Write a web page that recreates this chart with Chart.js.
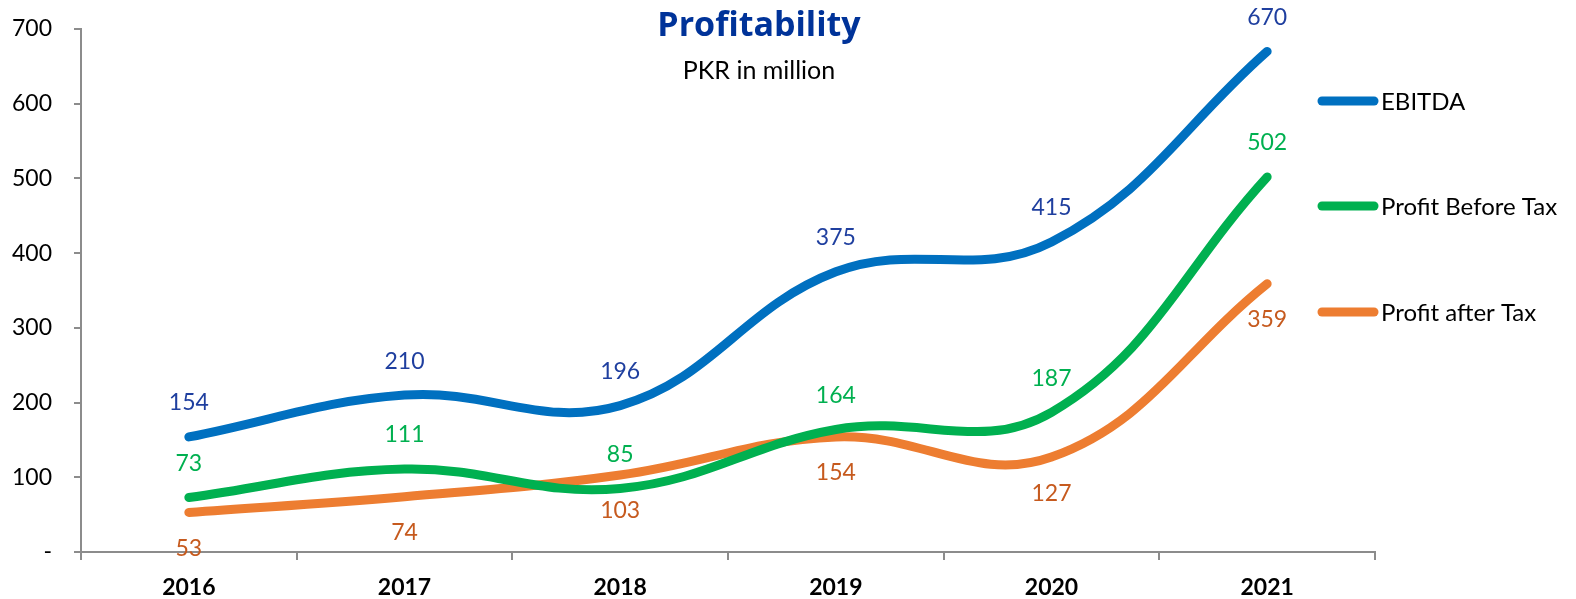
<!DOCTYPE html>
<html>
<head>
<meta charset="utf-8">
<script src="https://cdn.jsdelivr.net/npm/chart.js@4.4.1/dist/chart.umd.min.js"></script>
<style>
  html, body { margin: 0; padding: 0; background: #fff; }
  #wrap { width: 1576px; height: 599px; }
</style>
</head>
<body>
<div id="wrap"><canvas id="chart"></canvas></div>
<script>
// data
var YEARS = ["2016", "2017", "2018", "2019", "2020", "2021"];
var EBITDA = [154, 210, 196, 375, 415, 670];
var PROFIT_BEFORE_TAX = [73, 111, 85, 164, 187, 502];
var PROFIT_AFTER_TAX = [53, 74, 103, 154, 127, 359];
var Y_TICKS = [0, 100, 200, 300, 400, 500, 600, 700];

var FONT = "Lato, 'Noto Sans', sans-serif";

// value labels: above for the first two series, below for the last
var valueLabels = {
  id: "valueLabels",
  afterDatasetsDraw: function (chart) {
    var ctx = chart.ctx;
    ctx.save();
    ctx.font = "23px " + FONT;
    ctx.textAlign = "center";
    ctx.textBaseline = "middle";
    chart.data.datasets.forEach(function (ds, i) {
      var meta = chart.getDatasetMeta(i);
      meta.data.forEach(function (pt, j) {
        var dy = ds.labelBelow ? 36 : -34;
        ctx.fillStyle = ds.labelColor;
        ctx.fillText(String(ds.data[j]), pt.x, pt.y + dy);
      });
    });
    ctx.restore();
  }
};

// title, subtitle and the legend on the right
var decorations = {
  id: "decorations",
  afterDraw: function (chart) {
    var ctx = chart.ctx;
    ctx.save();
    ctx.textAlign = "center";
    ctx.textBaseline = "middle";
    ctx.fillStyle = "#003399";
    ctx.font = "bold 34px 'Open Sans', " + FONT;
    ctx.fillText("Profitability", 759, 26);
    ctx.fillStyle = "#000";
    ctx.font = "25px " + FONT;
    ctx.fillText("PKR in million", 759, 71);

    var rows = [101, 206, 312];
    ctx.textAlign = "left";
    chart.data.datasets.forEach(function (ds, i) {
      var y = rows[i];
      ctx.strokeStyle = ds.borderColor;
      ctx.lineWidth = 9;
      ctx.lineCap = "round";
      ctx.beginPath();
      ctx.moveTo(1322, y);
      ctx.lineTo(1374, y);
      ctx.stroke();
      ctx.fillStyle = "#000";
      ctx.font = "24px " + FONT;
      ctx.fillText(ds.label, 1381, y + 1);
    });
    ctx.restore();
  }
};

function series(label, data, color, labelColor, below) {
  return {
    label: label,
    data: data,
    borderColor: color,
    backgroundColor: color,
    borderWidth: 9,
    borderCapStyle: "round",
    borderJoinStyle: "round",
    pointRadius: 0,
    tension: 0.4,
    fill: false,
    labelColor: labelColor,
    labelBelow: below
  };
}

new Chart(document.getElementById("chart"), {
  type: "line",
  data: {
    labels: YEARS,
    datasets: [
      series("EBITDA", EBITDA, "#0070C0", "#1F3F9F", false),
      series("Profit Before Tax", PROFIT_BEFORE_TAX, "#00B050", "#00B050", false),
      series("Profit after Tax", PROFIT_AFTER_TAX, "#ED7D31", "#C65A1E", true)
    ]
  },
  options: {
    responsive: true,
    maintainAspectRatio: false,
    animation: false,
    layout: { padding: { top: 29, right: 201, bottom: 0, left: 0 } },
    plugins: {
      legend: { display: false },
      tooltip: { enabled: false }
    },
    scales: {
      x: {
        offset: true,
        grid: {
          offset: true,
          drawOnChartArea: false,
          drawTicks: true,
          tickLength: 8,
          color: "#8c8c8c",
          lineWidth: 2
        },
        border: { display: true, color: "#8c8c8c", width: 2 },
        ticks: {
          color: "#000",
          padding: 14,
          font: { family: FONT, size: 23, weight: "bold" }
        },
        afterFit: function (scale) { scale.height = 47; }
      },
      y: {
        min: 0,
        max: 700,
        afterBuildTicks: function (scale) {
          scale.ticks = Y_TICKS.map(function (v) { return { value: v }; });
        },
        grid: {
          drawOnChartArea: false,
          drawTicks: true,
          tickLength: 7,
          color: "#8c8c8c",
          lineWidth: 2
        },
        border: { display: true, color: "#8c8c8c", width: 2 },
        ticks: {
          color: "#000",
          padding: 22,
          font: { family: FONT, size: 23, lineHeight: 0.6 },
          callback: function (v) { return v === 0 ? "-" : v; }
        },
        afterFit: function (scale) { scale.width = 81; }
      }
    }
  },
  plugins: [valueLabels, decorations]
});
</script>
</body>
</html>
